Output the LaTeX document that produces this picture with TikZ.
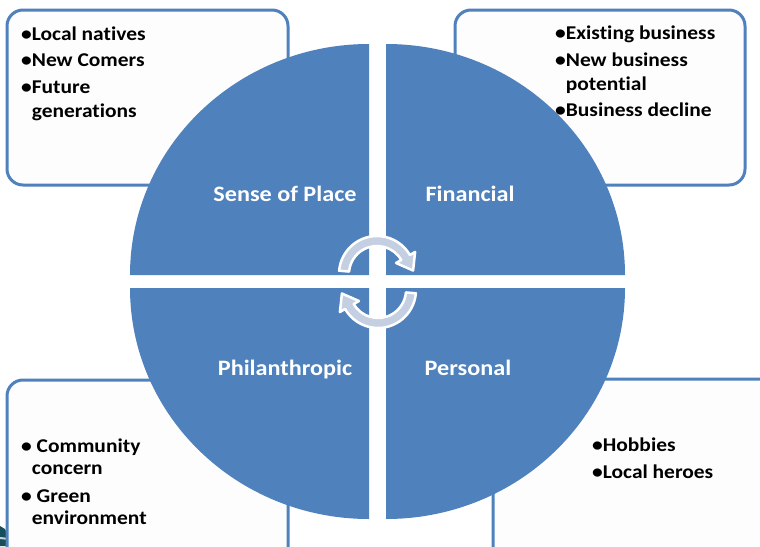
\documentclass[tikz,border=0pt]{standalone}
\usepackage{fontspec}
\setmainfont{Carlito}[FakeStretch=1.1,Ligatures=NoCommon]
\definecolor{wheelblue}{RGB}{79,129,189}
\definecolor{boxwhite}{RGB}{253,253,253}
\definecolor{arrowgrey}{RGB}{196,207,226}
\definecolor{cornerteal}{RGB}{22,78,92}
\definecolor{cornergrey}{RGB}{200,208,214}

\begin{document}
\begin{tikzpicture}[x=1pt,y=1pt,
  infobox/.style={draw=wheelblue,line width=3pt,fill=boxwhite,rounded corners=16pt},
  quarter/.style={fill=wheelblue},
  cyclearrow/.style={fill=arrowgrey,draw=white,line width=2.5pt,line join=round},
  itemtext/.style={anchor=base west,align=left,font=\bfseries\fontsize{19.5}{24}\selectfont},
  wheeltext/.style={anchor=base,text=white,font=\bfseries\fontsize{22}{26}\selectfont}]
\tikzstyle{every node}+=[inner sep=0pt]
\path [use as bounding box,clip] (0,0) rectangle (760,-546);
\fill [white] (0,0) rectangle (760,-546);
\fill [cornerteal] (0,-526) -- (5,-529) -- (13,-546) -- (0,-546) -- cycle;
\draw [cornergrey,line width=2pt] (0,-538) .. controls (20,-540) and (40,-544) .. (60,-548);
\draw [infobox] (7,-10) rectangle (288,-185);
\draw [infobox] (455,-10) rectangle (745,-185);
\draw [infobox] (7,-380) rectangle (288,-570);
\draw [infobox] (493,-379) rectangle (775,-570);
\fill [quarter] (369,-275) -- ++(-239,0) arc[start angle=180,end angle=90,x radius=239,y radius=231] -- cycle;
\fill [quarter] (386,-275) -- ++(0,231) arc[start angle=90,end angle=0,x radius=239,y radius=231] -- cycle;
\fill [quarter] (369,-288) -- ++(-239,0) arc[start angle=180,end angle=270,x radius=239,y radius=231] -- cycle;
\fill [quarter] (386,-288) -- ++(0,-231) arc[start angle=270,end angle=360,x radius=239,y radius=231] -- cycle;
\filldraw [cyclearrow] (377,-274) ++(175:38) arc[start angle=175,end angle=30,radius=38] -- (415.1,-252) -- (413.1,-270.5) -- (396.05,-263) -- (401.25,-260) arc[start angle=30,end angle=175,radius=28] -- cycle;
\begin{scope}[rotate around={180:(377.5,-282)}]
\filldraw [cyclearrow] (377,-274) ++(175:38) arc[start angle=175,end angle=30,radius=38] -- (415.1,-252) -- (413.1,-270.5) -- (396.05,-263) -- (401.25,-260) arc[start angle=30,end angle=175,radius=28] -- cycle;
\end{scope}
\node [wheeltext] (place) at (285,-201) {Sense of Place};
\node [wheeltext] (financial) at (470,-201) {Financial};
\node [wheeltext] (philanthropic) at (285,-375) {Philanthropic};
\node [wheeltext] (personal) at (468,-375) {Personal};
\node [itemtext] (people) at (21,-117) {•Local natives\\[2.5pt]•New Comers\\[2.5pt]•Future\\\phantom{•}generations};
\node [itemtext] (business) at (555,-116.7) {•Existing business\\[2.5pt]•New business\\\phantom{•}potential\\[2.5pt]•Business decline};
\node [itemtext,font=\bfseries\fontsize{19.5}{22}\selectfont] (causes) at (21,-524) {• Community\\\phantom{•}concern\\[6pt]• Green\\\phantom{•}environment};
\node [itemtext] (interests) at (592,-478.3) {•Hobbies\\[3pt]•Local heroes};
\end{tikzpicture}
\end{document}
